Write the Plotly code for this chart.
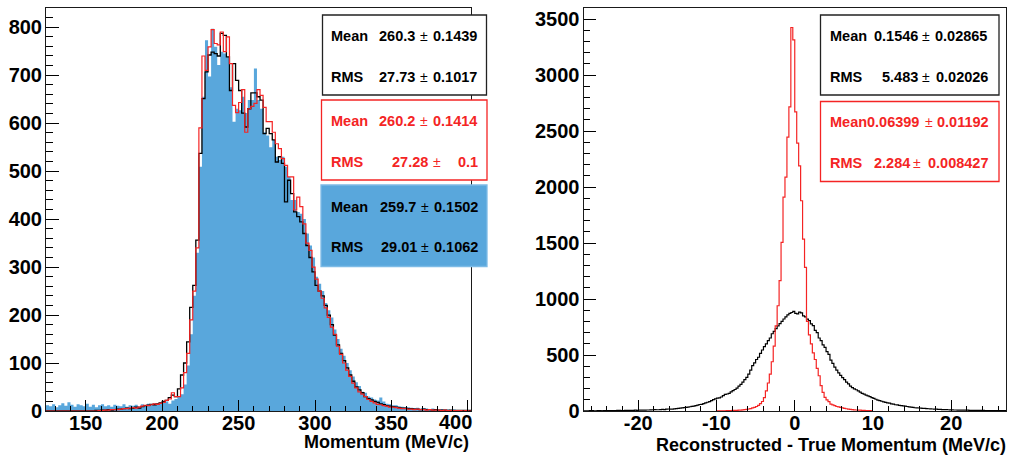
import plotly.graph_objects as go

W, H = 1009, 456

# ---------------- Left panel: momentum, 2 MeV/c bins starting at 124 ----------------
mom_start = 124.0
mom_width = 2.0
mom_black = [
    0, 0, 0, 0, 0, 0, 0, 0, 0, 0,
    0, 0, 0, 0, 0, 0, 1, 1, 2, 2,
    3, 2, 3, 4, 4, 5, 6, 5, 6, 8,
    6, 9, 11, 12, 14, 13, 15, 17, 20, 22,
    28, 33, 30, 46, 75, 100, 144, 216, 262, 356,
    537, 651, 707, 742, 748, 745, 740, 787, 783, 738,
    668, 724, 689, 668, 621, 592, 630, 663, 663, 655,
    648, 578, 589, 578, 565, 519, 530, 516, 436, 481,
    453, 415, 405, 394, 370, 345, 320, 290, 262, 250,
    240, 220, 200, 180, 158, 138, 120, 105, 90, 75,
    62, 50, 44, 38, 30, 26, 23, 20, 18, 15,
    13, 11, 10, 9, 8, 7, 6, 6, 5, 5,
    4, 4, 3, 4, 3, 3, 2, 3, 2, 2,
    2, 1, 2, 1, 1, 1, 1, 1, 1,
]
mom_red = [
    0, 0, 0, 0, 0, 0, 0, 0, 0, 0,
    0, 0, 0, 0, 0, 0, 0, 1, 1, 2,
    2, 3, 3, 3, 4, 5, 5, 6, 7, 6,
    8, 10, 12, 11, 13, 15, 14, 16, 18, 22,
    25, 38, 30, 30, 48, 80, 120, 190, 250, 340,
    590, 740, 710, 759, 795, 766, 763, 790, 749, 780,
    724, 637, 622, 643, 670, 581, 630, 635, 641, 670,
    658, 633, 603, 603, 581, 557, 547, 526, 512, 488,
    488, 419, 446, 426, 390, 350, 335, 300, 275, 250,
    235, 215, 195, 175, 160, 135, 118, 100, 85, 72,
    58, 48, 40, 35, 30, 24, 20, 17, 14, 13,
    11, 10, 8, 8, 7, 6, 5, 5, 4, 4,
    3, 4, 3, 3, 2, 3, 2, 2, 2, 1,
    2, 1, 1, 1, 1, 1, 0, 1, 0,
]
mom_blue = [
    12, 10, 14, 8, 12, 16, 11, 18, 13, 9,
    14, 12, 10, 15, 9, 13, 8, 12, 14, 10,
    12, 9, 13, 11, 10, 14, 9, 12, 11, 13,
    10, 14, 12, 15, 13, 16, 14, 17, 18, 20,
    15, 22, 25, 30, 35, 55, 95, 160, 240, 330,
    509, 655, 773, 697, 797, 759, 721, 749, 745, 738,
    675, 603, 630, 627, 655, 621, 648, 648, 714, 648,
    630, 581, 574, 550, 565, 530, 523, 530, 509, 488,
    440, 440, 415, 411, 400, 370, 345, 320, 280, 265,
    250, 225, 210, 195, 170, 150, 130, 115, 100, 85,
    72, 60, 52, 40, 38, 30, 28, 24, 22, 28,
    20, 15, 14, 12, 12, 10, 9, 8, 8, 7,
    6, 7, 5, 6, 5, 4, 5, 4, 3, 4,
    3, 3, 2, 3, 2, 2, 2, 1, 1,
]

# ---------------- Right panel: reconstructed - true momentum ----------------
res_black_start = -27.0
res_black_width = 0.25
res_black = [
    2, 1, 2, 3, 3, 2, 2, 3, 3, 2,
    3, 4, 3, 4, 4, 3, 4, 5, 5, 4,
    4, 5, 5, 6, 6, 5, 7, 6, 8, 7,
    7, 8, 9, 9, 10, 11, 12, 11, 11, 13,
    14, 13, 16, 18, 17, 16, 19, 21, 24, 25,
    28, 31, 33, 35, 38, 42, 44, 48, 52, 58,
    60, 66, 72, 78, 84, 92, 102, 108, 115, 118,
    125, 138, 148, 152, 158, 170, 182, 192, 205, 222,
    238, 258, 280, 300, 330, 365, 405, 430, 460, 480,
    515, 545, 575, 600, 628, 652, 690, 712, 735, 760,
    780, 800, 822, 840, 858, 872, 880, 890, 872, 868,
    884, 876, 850, 840, 820, 808, 778, 762, 720, 700,
    652, 628, 590, 568, 530, 505, 455, 425, 392, 365,
    340, 318, 298, 280, 258, 242, 222, 208, 198, 190,
    180, 168, 158, 150, 142, 136, 128, 120, 112, 105,
    98, 92, 87, 82, 77, 72, 70, 64, 61, 56,
    54, 50, 48, 45, 43, 40, 37, 34, 32, 29,
    28, 27, 26, 24, 23, 21, 20, 19, 18, 17,
    17, 15, 14, 13, 12, 12, 11, 10, 10, 9,
    9, 8, 8, 8, 7, 7, 7, 6, 6, 6,
    6, 5, 5, 5, 5, 4, 4, 4, 4, 4,
    3, 4, 3, 3, 3, 3,
]
res_red_start = -10.0
res_red_width = 0.25
res_red = [
    1, 1, 2, 2, 2, 3, 3, 4,
    5, 5, 6, 7, 8, 10, 12, 14,
    18, 22, 28, 33, 40, 50, 65, 85,
    120, 180, 250, 330, 440, 580, 760, 940,
    1164, 1506, 1910, 2089, 2446, 2717, 3426, 3315,
    2672, 2393, 2190, 1878, 1536, 1283, 800, 680,
    600, 520, 460, 380, 315, 226, 167, 122,
    100, 83, 62, 55, 48, 40, 36, 33,
    28, 24, 20, 17, 14, 12, 10, 9,
    8, 7, 6, 5, 4, 3, 3, 2,
]

# ---------------- Axes ----------------
left_xrange = [124, 402]
left_yrange = [0, 840]
left_xticks = [150, 200, 250, 300, 350, 400]
left_yticks = [0, 100, 200, 300, 400, 500, 600, 700, 800]
right_xrange = [-27, 27]
right_yrange = [0, 3600]
right_xticks = [-20, -10, 0, 10, 20]
right_yticks = [0, 500, 1000, 1500, 2000, 2500, 3000, 3500]
left_xtitle = "Momentum (MeV/c)"
right_xtitle = "Reconstructed - True Momentum (MeV/c)"

# ---------------- Statistics boxes ----------------
left_stats = [
    ("black", [("Mean", "260.3", "0.1439"), ("RMS", "27.73", "0.1017")]),
    ("red", [("Mean", "260.2", "0.1414"), ("RMS", "27.28", "0.1")]),
    ("blue", [("Mean", "259.7", "0.1502"), ("RMS", "29.01", "0.1062")]),
]
right_stats = [
    ("black", [("Mean", "0.1546", "0.02865"), ("RMS", "5.483", "0.02026")]),
    ("red", [("Mean", "0.06399", "0.01192"), ("RMS", "2.284", "0.008427")]),
]

BLACK = "#000000"
RED = "#F42424"
BLUE = "#59A7DC"
FONT = "Liberation Sans"


def step_xy(start, width, vals):
    xs = [start + width * i for i in range(len(vals) + 1)]
    ys = list(vals) + [vals[-1]]
    return xs, ys


fig = go.Figure()

# left panel traces
x, y = step_xy(mom_start, mom_width, mom_blue)
fig.add_trace(go.Scatter(x=x, y=y, mode="lines", line=dict(shape="hv", width=0, color=BLUE),
                         fill="tozeroy", fillcolor=BLUE, xaxis="x", yaxis="y", hoverinfo="skip"))
x, y = step_xy(mom_start, mom_width, mom_black)
fig.add_trace(go.Scatter(x=x, y=y, mode="lines", line=dict(shape="hv", width=1.3, color=BLACK),
                         xaxis="x", yaxis="y"))
x, y = step_xy(mom_start, mom_width, mom_red)
fig.add_trace(go.Scatter(x=x, y=y, mode="lines", line=dict(shape="hv", width=1.2, color=RED),
                         xaxis="x", yaxis="y"))

# right panel traces
x, y = step_xy(res_black_start, res_black_width, res_black)
fig.add_trace(go.Scatter(x=x, y=y, mode="lines", line=dict(shape="hv", width=1.2, color=BLACK),
                         xaxis="x2", yaxis="y2"))
x, y = step_xy(res_red_start, res_red_width, res_red)
fig.add_trace(go.Scatter(x=x, y=y, mode="lines", line=dict(shape="hv", width=1.2, color=RED),
                         xaxis="x2", yaxis="y2"))


def px(v):
    return v / W


def py(v):
    return 1 - v / H


tickfont = dict(family=FONT, size=20, color="black", weight="bold")


def axis(domain, rng, ticks, minor_dtick, major_len, minor_len, anchor, standoff, labels=None):
    return dict(
        domain=domain, range=rng, tickmode="array", tickvals=ticks,
        ticktext=labels if labels is not None else [str(t) for t in ticks],
        anchor=anchor, automargin=False, ticklabelstandoff=standoff,
        ticks="inside", ticklen=major_len, tickwidth=1, tickcolor="black",
        minor=dict(ticks="inside", ticklen=minor_len, tickwidth=1, tickcolor="black",
                   tickmode="linear", tick0=0, dtick=minor_dtick),
        showline=True, linecolor="#1a1a1a", linewidth=1, mirror=True,
        showgrid=False, zeroline=False, tickfont=tickfont, fixedrange=True,
    )


# the last left-panel label is drawn separately, pulled in to end at the frame edge
left_xlabels = [str(t) for t in left_xticks[:-1]] + [""]

ydom = [py(411), py(8)]
fig.update_layout(
    template="none",
    width=W, height=H,
    margin=dict(l=0, r=0, t=0, b=0, pad=0),
    paper_bgcolor="white", plot_bgcolor="white",
    showlegend=False,
    xaxis=axis([px(46), px(471)], left_xrange, left_xticks, 10, 11, 5.5, "y", -6, left_xlabels),
    yaxis=axis(ydom, left_yrange, left_yticks, 20, 13, 6.5, "x", -1),
    xaxis2=axis([px(583.5), px(1006)], right_xrange, right_xticks, 2, 11, 5.5, "y2", -6),
    yaxis2=axis(ydom, right_yrange, right_yticks, 100, 12, 6, "x2", -1),
)

shapes = []
annotations = []

annotations.append(dict(text=str(left_xticks[-1]), x=px(474), y=py(422), xref="paper", yref="paper",
                        xanchor="right", yanchor="middle", showarrow=False, font=tickfont))

# Axis titles
annotations.append(dict(text=left_xtitle, x=px(471), y=py(442), xref="paper", yref="paper",
                        xanchor="right", yanchor="middle", showarrow=False,
                        font=dict(family=FONT, size=18, color="black", weight="bold")))
annotations.append(dict(text=right_xtitle, x=px(1008), y=py(445), xref="paper", yref="paper",
                        xanchor="right", yanchor="middle", showarrow=False,
                        font=dict(family=FONT, size=18, color="black", weight="bold")))


def stats_box(kind, rows, box, row_ys, lab_x, cols):
    x0, y0, x1, y1 = box
    if kind == "black":
        border, fill, tcol = "#222222", "white", "black"
    elif kind == "red":
        border, fill, tcol = RED, "white", RED
    else:
        border, fill, tcol = "#7DBBE6", BLUE, "black"
    shapes.append(dict(type="rect", xref="paper", yref="paper",
                       x0=px(x0), x1=px(x1), y0=py(y1), y1=py(y0),
                       line=dict(color=border, width=1.3), fillcolor=fill, layer="above"))
    f = dict(family=FONT, size=14.5, color=tcol, weight="bold")
    fpm = dict(family=FONT, size=14, color=tcol)
    for (lab, val, err), yy, (val_r, pm_x, err_r) in zip(rows, row_ys, cols):
        annotations.append(dict(text=lab, x=px(lab_x), y=py(yy), xref="paper", yref="paper",
                                xanchor="left", yanchor="middle", showarrow=False, font=f))
        annotations.append(dict(text=val, x=px(val_r), y=py(yy), xref="paper", yref="paper",
                                xanchor="right", yanchor="middle", showarrow=False, font=f))
        annotations.append(dict(text="±", x=px(pm_x), y=py(yy), xref="paper", yref="paper",
                                xanchor="center", yanchor="middle", showarrow=False, font=fpm))
        annotations.append(dict(text=err, x=px(err_r), y=py(yy), xref="paper", yref="paper",
                                xanchor="right", yanchor="middle", showarrow=False, font=f))


left_boxes = [(322.5, 15, 486.5, 95), (321.5, 100, 487, 180), (321, 185, 487, 266.5)]
left_rows = [(35.7, 76.7), (120.7, 162.3), (207.3, 246.7)]
left_cols = [
    [(417, 423.5, 478.5), (417, 423.5, 478.5)],
    [(417, 423.5, 478.5), (430, 437, 479.5)],
    [(418, 424.5, 479.5), (418.5, 424.5, 479.5)],
]
for (kind, rows), box, ys, cols in zip(left_stats, left_boxes, left_rows, left_cols):
    stats_box(kind, rows, box, ys, 329, cols)

right_boxes = [(820.5, 15, 999, 95), (820.5, 101.5, 999, 181.5)]
right_rows = [(35.7, 76.7), (122.3, 163.3)]
right_cols = [
    [(919.5, 926, 988.5), (919.5, 926, 989.5)],
    [(921, 928.5, 991), (912, 917, 989.5)],
]
for (kind, rows), box, ys, cols in zip(right_stats, right_boxes, right_rows, right_cols):
    stats_box(kind, rows, box, ys, 828, cols)

fig.update_layout(shapes=shapes, annotations=annotations)
fig.write_html("out.html", config={"displayModeBar": False},
               post_script="document.body.style.margin='0px';")
